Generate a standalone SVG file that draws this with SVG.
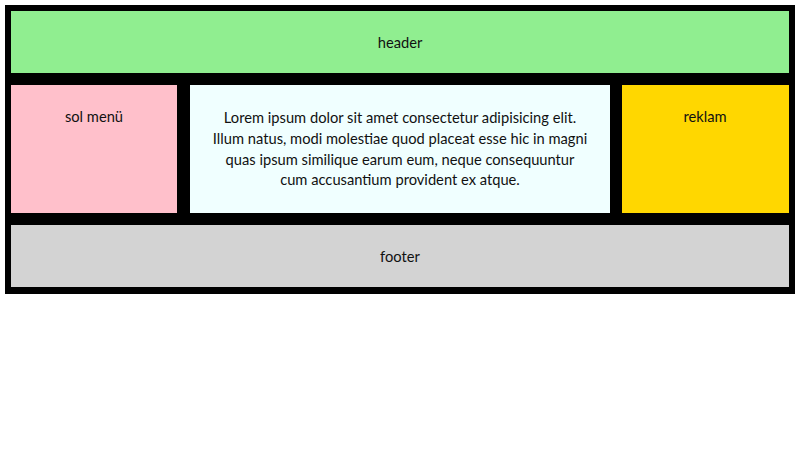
<svg xmlns="http://www.w3.org/2000/svg" width="800" height="450" viewBox="0 0 800 450">
<style>
.t{font-family:"Lato","Open Sans","Liberation Sans",sans-serif;font-size:14.7px;fill:#111;text-anchor:middle}
</style>
<rect width="800" height="450" fill="#fff"/>
<rect id="frame" x="5" y="5" width="790" height="289" fill="#000"/>
<g id="header"><rect x="11" y="11" width="778" height="62" fill="#90ee90"/><text class="t" x="400" y="48">header</text></g>
<g id="sol-menu"><rect x="11" y="85" width="166" height="128" fill="#ffc0cb"/><text class="t" x="94" y="121.5">sol menü</text></g>
<g id="content"><rect x="190" y="85" width="420" height="128" fill="#f0ffff"/>
<text class="t" x="400"><tspan x="400" y="123">Lorem ipsum dolor sit amet consectetur adipisicing elit.</tspan><tspan x="400" y="143.5">Illum natus, modi molestiae quod placeat esse hic in magni</tspan><tspan x="400" y="164.5">quas ipsum similique earum eum, neque consequuntur</tspan><tspan x="400" y="185">cum accusantium provident ex atque.</tspan></text></g>
<g id="reklam"><rect x="622" y="85" width="167" height="128" fill="#ffd700"/><text class="t" x="705" y="121.5">reklam</text></g>
<g id="footer"><rect x="11" y="225" width="778" height="62" fill="#d3d3d3"/><text class="t" x="400" y="262">footer</text></g>
<g id="connectors"/>
</svg>
